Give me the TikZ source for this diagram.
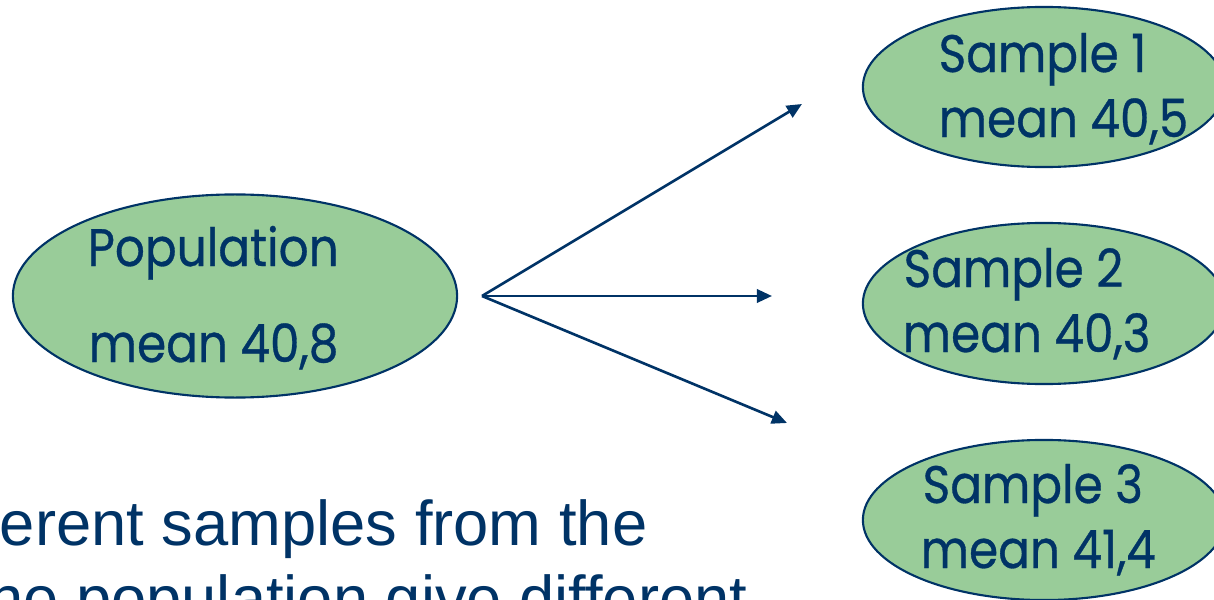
\documentclass[tikz,border=0pt]{standalone}
\usepackage{fontspec}
\setmainfont{Liberation Sans}
\newfontfamily\comicfont[FakeStretch=0.89,FakeBold=0.6]{Poppins}
\usetikzlibrary{shapes.geometric,arrows.meta}
\definecolor{navy}{HTML}{003366}
\definecolor{leaf}{HTML}{99CC99}
\tikzset{
  blob/.style={ellipse, draw=navy, line width=0.6pt, fill=leaf, inner sep=0pt},
  comic/.style={font=\comicfont\fontsize{15}{15}\selectfont, text=navy, inner sep=0pt, anchor=base west},
  body/.style={font=\fontsize{18}{18}\selectfont, text=navy, inner sep=0pt, anchor=base east},
  link/.style={draw=navy, line width=0.75pt, -{Triangle[length=4.3pt,width=3.8pt]}}
}
\begin{document}
\begin{tikzpicture}[x=0.01cm,y=-0.01cm]
\useasboundingbox (0,0) rectangle (1214,600);
\clip (0,0) rectangle (1214,600);
\node[blob, minimum width=4.44cm, minimum height=2.03cm] (pop) at (235,296) {};
\node[blob, minimum width=3.62cm, minimum height=1.60cm] (s1) at (1044,87) {};
\node[blob, minimum width=3.62cm, minimum height=1.61cm] (s2) at (1044,303.5) {};
\node[blob, minimum width=3.62cm, minimum height=1.60cm] (s3) at (1044,520) {};
\node[comic] (poptitle) at (87,266) {Population};
\node[comic] (popmean) at (88,362) {mean 40,8};
\node[comic] (s1title) at (938,72) {Sample 1};
\node[comic] (s1mean) at (938,137) {mean 40,5};
\node[comic] (s2title) at (903,287) {Sample 2};
\node[comic] (s2mean) at (902,352) {mean 40,3};
\node[comic] (s3title) at (922,503) {Sample 3};
\node[comic] (s3mean) at (920,568) {mean 41,4};
\coordinate (fork) at (482,296);
\coordinate (t1) at (802,104);
\coordinate (t2) at (772,296);
\coordinate (t3) at (787,423);
\draw[link] (fork) -- (t1);
\draw[link] (fork) -- (t2);
\draw[link] (fork) -- (t3);
\node[body] (line1) at (648,545) {Different samples from the};
\node[body] (line2) at (748,620) {the population give different};
\end{tikzpicture}
\end{document}
